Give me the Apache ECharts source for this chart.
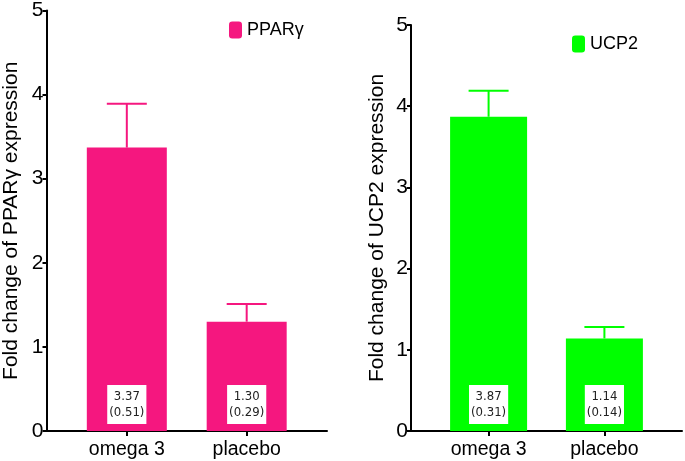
<!DOCTYPE html>
<html><head><meta charset="utf-8">
<script src="https://cdn.jsdelivr.net/npm/echarts@6/dist/echarts.min.js"></script>
<style>html,body{margin:0;padding:0;background:#fff}#c{width:685px;height:461px}</style>
</head><body><div id="c"></div>
<script>
const categories = ['omega 3', 'placebo'];
const pparMean = [3.37, 1.30];
const pparErrTop = [3.89, 1.51];
const pparSD = ['0.51', '0.29'];
const ucpMean = [3.87, 1.14];
const ucpErrTop = [4.19, 1.28];
const ucpSD = ['0.31', '0.14'];
const yTicks = [0, 1, 2, 3, 4, 5];

const FONT = 'Liberation Sans';
const chart = echarts.init(document.getElementById('c'), null, {renderer: 'canvas'});

function xAx(gi) {
  return {
    gridIndex: gi, type: 'value', min: -0.67, max: 1.67,
    axisLine: {show: true, onZero: false, lineStyle: {color: '#000', width: 2}},
    axisTick: {show: true, customValues: [0, 1], length: 5, lineStyle: {color: '#000', width: 2}},
    axisLabel: {show: true, customValues: [0, 1], formatter: v => categories[Math.round(v)] || '', fontFamily: FONT, fontSize: 19.5, color: '#000', margin: 9},
    splitLine: {show: false}
  };
}
function yAx(gi, name, gap) {
  return {
    gridIndex: gi, type: 'value', min: yTicks[0], max: yTicks[yTicks.length - 1], interval: 1,
    name: name, nameLocation: 'middle', nameGap: gap,
    nameTextStyle: {fontFamily: FONT, fontSize: 21, color: '#000'},
    axisLine: {show: true, onZero: false, lineStyle: {color: '#000', width: 2}},
    axisTick: {show: true, length: 4, lineStyle: {color: '#000', width: 2}},
    axisLabel: {fontFamily: FONT, fontSize: 21, color: '#000', margin: 3},
    splitLine: {show: false}
  };
}
function barSeries(name, gi, means, sds, color) {
  return {
    name: name, type: 'bar', xAxisIndex: gi, yAxisIndex: gi,
    data: means.map((m, i) => [i, m]),
    barWidth: gi === 0 ? 80 : 77,
    itemStyle: {color: color},
    label: {
      show: true, position: 'insideBottom', distance: 7,
      formatter: p => means[p.dataIndex].toFixed(2) + '\n(' + sds[p.dataIndex] + ')',
      backgroundColor: '#fff', padding: [4, 2, 3, 2], fontSize: 13, lineHeight: 16,
      color: '#222', fontFamily: 'DejaVu Sans Condensed'
    }
  };
}
function errSeries(gi, means, tops, color) {
  return {
    name: 'err' + gi, type: 'custom', xAxisIndex: gi, yAxisIndex: gi,
    data: means.map((m, i) => [i, m, tops[i]]),
    renderItem: (params, api) => {
      const x = api.value(0);
      const p0 = api.coord([x, api.value(1)]);
      const p1 = api.coord([x, api.value(2)]);
      const hw = 20;
      return {type: 'group', children: [
        {type: 'line', shape: {x1: p0[0], y1: p0[1], x2: p1[0], y2: p1[1]}, style: {stroke: color, lineWidth: 2}},
        {type: 'line', shape: {x1: p1[0] - hw, y1: p1[1], x2: p1[0] + hw, y2: p1[1]}, style: {stroke: color, lineWidth: 2}}
      ]};
    },
    z: 3
  };
}
const pink = '#F5177F', green = '#00FF00';
chart.setOption({
  animation: false,
  grid: [
    {left: 45, top: 9, right: 685 - 327, bottom: 30},
    {left: 411, top: 25, right: 3, bottom: 30}
  ],
  legend: [
    {data: ['PPARγ'], left: 224, top: 16, itemWidth: 13, itemHeight: 17, itemGap: 6, textStyle: {fontFamily: FONT, fontSize: 18, color: '#000'}},
    {data: ['UCP2'], left: 567, top: 30, itemWidth: 13, itemHeight: 17, textStyle: {fontFamily: FONT, fontSize: 18, color: '#000'}}
  ],
  xAxis: [xAx(0), xAx(1)],
  yAxis: [yAx(0, 'Fold change of PPARγ expression', 24.5), yAx(1, 'Fold change of UCP2 expression', 23)],
  series: [
    barSeries('PPARγ', 0, pparMean, pparSD, pink),
    errSeries(0, pparMean, pparErrTop, pink),
    barSeries('UCP2', 1, ucpMean, ucpSD, green),
    errSeries(1, ucpMean, ucpErrTop, green)
  ]
});
</script></body></html>
